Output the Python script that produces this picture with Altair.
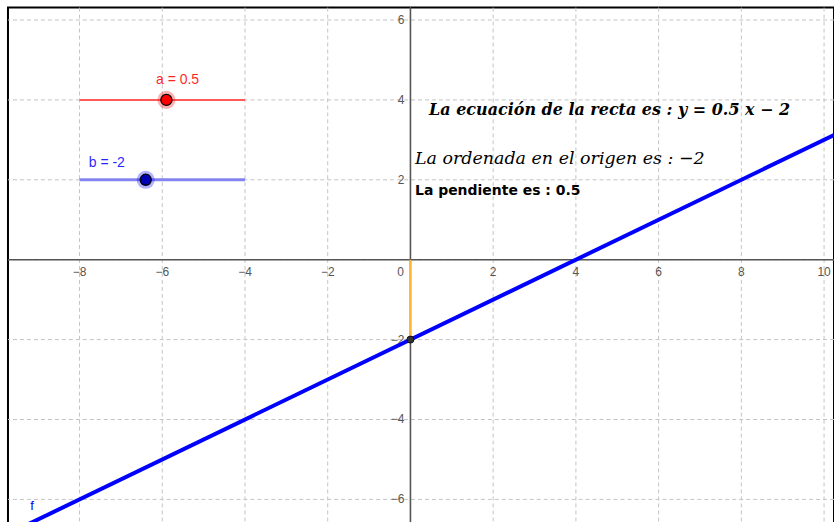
import altair as alt
import pandas as pd

# ---- slider values (a: slope, b: intercept) ----
slider_names = ["a", "b"]
slider_values = [0.5, -2]
slider_labels = ["a = 0.5", "b = -2"]
slider_min, slider_max = -10, 10
slider_track_y = [4, 2]
slider_track_x = [-8, -4]
slider_colors = ["#ff0000", "#0000ff"]
slider_line_colors = ["#ff5a5a", "#8484f0"]
slider_point_colors = ["#ff0000", "#0000b4"]

a_val, b_val = slider_values

# ---- axis tick labels ----
x_ticks = [-8, -6, -4, -2, 2, 4, 6, 8, 10]
y_ticks = [-6, -4, -2, 2, 4, 6]
grid_x = [-8, -6, -4, -2, 0, 2, 4, 6, 8, 10]
grid_y = [-6, -4, -2, 0, 2, 4, 6]

# ---- visible window of the graphics view ----
x_dom = [-9.73, 10.24]
y_dom = [-6.60, 6.31]

W, H = 828, 517
xs = alt.Scale(domain=x_dom, nice=False, zero=False)
ys = alt.Scale(domain=y_dom, nice=False, zero=False)


def fmt(v):
    s = f"{v:g}"
    return s.replace("-", "\u2212")


grid_x_df = pd.DataFrame({"x": grid_x})
grid_y_df = pd.DataFrame({"y": grid_y})

grid_v = alt.Chart(grid_x_df).mark_rule(
    color="#c4c4c4", strokeWidth=1, strokeDash=[4, 3]
).encode(x=alt.X("x:Q", scale=xs, axis=None))
grid_h = alt.Chart(grid_y_df).mark_rule(
    color="#c4c4c4", strokeWidth=1, strokeDash=[4, 3]
).encode(y=alt.Y("y:Q", scale=ys, axis=None))

origin = pd.DataFrame({"x": [0], "y": [0]})
axis_x = alt.Chart(origin).mark_rule(color="#555555", strokeWidth=1.6).encode(
    y=alt.Y("y:Q", scale=ys, axis=None)
)
axis_y = alt.Chart(origin).mark_rule(color="#555555", strokeWidth=1.6).encode(
    x=alt.X("x:Q", scale=xs, axis=None)
)

xlab_df = pd.DataFrame({"x": x_ticks, "y": [0] * len(x_ticks), "t": [fmt(v) for v in x_ticks]})
ylab_df = pd.DataFrame({"x": [0] * len(y_ticks), "y": y_ticks, "t": [fmt(v) for v in y_ticks]})
x_labels = alt.Chart(xlab_df).mark_text(
    font="Liberation Sans", fontSize=12, color="#555555", baseline="middle", align="center", dy=12
).encode(x=alt.X("x:Q", scale=xs, axis=None), y=alt.Y("y:Q", scale=ys, axis=None), text="t:N")
y_labels = alt.Chart(ylab_df).mark_text(
    font="Liberation Sans", fontSize=12, color="#555555", baseline="middle", align="right", dx=-6
).encode(x=alt.X("x:Q", scale=xs, axis=None), y=alt.Y("y:Q", scale=ys, axis=None), text="t:N")
zero_label = alt.Chart(pd.DataFrame({"x": [0], "y": [0], "t": ["0"]})).mark_text(
    font="Liberation Sans", fontSize=12, color="#555555", baseline="middle", align="center", dx=-10, dy=12
).encode(x=alt.X("x:Q", scale=xs, axis=None), y=alt.Y("y:Q", scale=ys, axis=None), text="t:N")

# intercept segment on the y axis and intercept point
seg_df = pd.DataFrame({"x": [0], "y": [0], "y2": [b_val]})
intercept_seg = alt.Chart(seg_df).mark_rule(color="#ffb732", strokeWidth=1.8).encode(
    x=alt.X("x:Q", scale=xs, axis=None),
    y=alt.Y("y:Q", scale=ys, axis=None),
    y2="y2:Q",
)

# the line f(x) = a x + b across the view
line_df = pd.DataFrame({"x": x_dom, "y": [a_val * v + b_val for v in x_dom]})
line_f = alt.Chart(line_df).mark_line(color="#0000ff", strokeWidth=4, clip=True).encode(
    x=alt.X("x:Q", scale=xs, axis=None), y=alt.Y("y:Q", scale=ys, axis=None)
)
f_label = alt.Chart(pd.DataFrame({"x": [-9.15], "y": [-6.17], "t": ["f"]})).mark_text(
    font="Liberation Sans", fontSize=13, color="#0000ff", baseline="middle", align="center"
).encode(x=alt.X("x:Q", scale=xs, axis=None), y=alt.Y("y:Q", scale=ys, axis=None), text="t:N")

ipt_df = pd.DataFrame({"x": [0], "y": [b_val]})
intercept_pt = alt.Chart(ipt_df).mark_point(
    filled=True, size=49, color="#333333", stroke="#111111", strokeWidth=1, opacity=1
).encode(x=alt.X("x:Q", scale=xs, axis=None), y=alt.Y("y:Q", scale=ys, axis=None))

# sliders
span = slider_track_x[1] - slider_track_x[0]
sl_df = pd.DataFrame({
    "name": slider_names,
    "x0": [slider_track_x[0]] * 2,
    "x1": [slider_track_x[1]] * 2,
    "y": slider_track_y,
    "px": [slider_track_x[0] + span * (v - slider_min) / (slider_max - slider_min) for v in slider_values],
    "line_c": slider_line_colors,
    "pt_c": slider_point_colors,
    "halo_c": slider_colors,
    "w": [2, 3],
})
sl_lines = alt.Chart(sl_df).mark_rule().encode(
    x=alt.X("x0:Q", scale=xs, axis=None),
    x2="x1:Q",
    y=alt.Y("y:Q", scale=ys, axis=None),
    color=alt.Color("line_c:N", scale=None),
    strokeWidth=alt.StrokeWidth("w:Q", scale=None),
)
sl_halo = alt.Chart(sl_df).mark_point(filled=True, size=330, opacity=0.3).encode(
    x=alt.X("px:Q", scale=xs, axis=None),
    y=alt.Y("y:Q", scale=ys, axis=None),
    color=alt.Color("halo_c:N", scale=None),
)
sl_pts = alt.Chart(sl_df).mark_point(
    filled=True, size=125, stroke="#000000", strokeWidth=1.2, opacity=1
).encode(
    x=alt.X("px:Q", scale=xs, axis=None),
    y=alt.Y("y:Q", scale=ys, axis=None),
    fill=alt.Fill("pt_c:N", scale=None),
)

sl_lab_df = pd.DataFrame({
    "x": [-5.63, -7.34],
    "y": [4.5, 2.43],
    "t": slider_labels,
    "c": slider_colors,
})
sl_labels = alt.Chart(sl_lab_df).mark_text(
    font="Liberation Sans", fontSize=14, baseline="middle", align="center", opacity=0.85
).encode(
    x=alt.X("x:Q", scale=xs, axis=None),
    y=alt.Y("y:Q", scale=ys, axis=None),
    text="t:N",
    color=alt.Color("c:N", scale=None),
)

# text boxes
eq_text = "La ecuación de la recta es : y = " + f"{a_val:g}" + " x \u2212 " + f"{abs(b_val):g}"
ord_text = "La ordenada en el origen es : " + fmt(b_val)
slope_text = "La pendiente es : " + f"{a_val:g}"

t1 = alt.Chart(pd.DataFrame({"x": [0.45], "y": [3.75], "t": [eq_text]})).mark_text(
    font="DejaVu Serif", fontStyle="italic", fontWeight="bold", fontSize=16,
    color="#000000", align="left", baseline="middle"
).encode(x=alt.X("x:Q", scale=xs, axis=None), y=alt.Y("y:Q", scale=ys, axis=None), text="t:N")
t2 = alt.Chart(pd.DataFrame({"x": [0.11], "y": [2.52], "t": [ord_text]})).mark_text(
    font="DejaVu Serif", fontStyle="italic", fontSize=17.5,
    color="#000000", align="left", baseline="middle"
).encode(x=alt.X("x:Q", scale=xs, axis=None), y=alt.Y("y:Q", scale=ys, axis=None), text="t:N")
t3 = alt.Chart(pd.DataFrame({"x": [0.11], "y": [1.72], "t": [slope_text]})).mark_text(
    font="DejaVu Sans", fontWeight="bold", fontSize=14,
    color="#000000", align="left", baseline="middle"
).encode(x=alt.X("x:Q", scale=xs, axis=None), y=alt.Y("y:Q", scale=ys, axis=None), text="t:N")

chart = alt.layer(
    grid_v, grid_h, axis_x, axis_y, x_labels, y_labels, zero_label,
    intercept_seg, line_f, f_label, intercept_pt,
    sl_lines, sl_halo, sl_pts, sl_labels,
    t1, t2, t3,
).properties(
    width=W, height=H,
    padding={"left": 8, "top": 7, "right": 0, "bottom": 0},
    autosize=alt.AutoSizeParams(type="none"),
    background="white",
).configure_view(stroke="#000000", strokeWidth=2)

chart.save("out.html", embed_options={"renderer": "svg", "actions": False})
